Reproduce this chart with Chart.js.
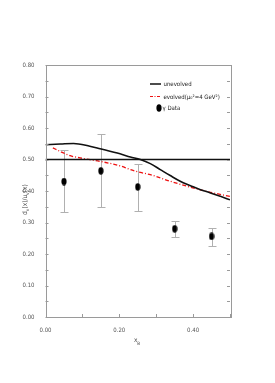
<!DOCTYPE html>
<html>
<head>
<meta charset="utf-8">
<script src="https://cdn.jsdelivr.net/npm/chart.js@4"></script>
<style>
  html, body { margin: 0; padding: 0; background: #fff; }
  #wrap { width: 275px; height: 383px; }
</style>
</head>
<body>
<div id="wrap"><canvas id="ratioChart" width="275" height="383"></canvas></div>
<script>
// Unevolved curve
const unevX = [0.00, 0.04, 0.076, 0.12, 0.148, 0.202, 0.23, 0.257, 0.284, 0.311, 0.338, 0.365, 0.393, 0.42, 0.447, 0.474, 0.50];
const unevY = [0.547, 0.549, 0.551, 0.542, 0.534, 0.518, 0.508, 0.500, 0.487, 0.468, 0.449, 0.431, 0.417, 0.404, 0.394, 0.383, 0.372];

// Evolved curve (mu0^2 = 4 GeV^2)
const evX = [0.02, 0.039, 0.067, 0.094, 0.148, 0.202, 0.23, 0.257, 0.284, 0.338, 0.393, 0.447, 0.50];
const evY = [0.537, 0.526, 0.512, 0.505, 0.494, 0.480, 0.468, 0.459, 0.452, 0.431, 0.412, 0.396, 0.383];

// Horizontal reference line
const refX = [0.00, 0.50];
const refY = [0.50, 0.50];

// gamma data with error bars
const dataX = [0.05, 0.15, 0.25, 0.35, 0.45];
const dataY = [0.430, 0.464, 0.413, 0.280, 0.256];
const errHi = [0.531, 0.580, 0.486, 0.305, 0.283];
const errLo = [0.333, 0.349, 0.337, 0.255, 0.226];

const xTicks = [0.00, 0.20, 0.40];
const yTicks = [0.00, 0.10, 0.20, 0.30, 0.40, 0.50, 0.60, 0.70, 0.80];

const FONT = '"Liberation Sans Narrow", "DejaVu Sans Condensed", "Liberation Sans", sans-serif';

function pts(xs, ys) {
    return xs.map((x, i) => ({ x: x, y: ys[i] }));
}

// Oval marker used for the data points
function makeOval() {
    const c = document.createElement('canvas');
    c.width = 6; c.height = 8;
    const g = c.getContext('2d');
    g.fillStyle = '#000';
    g.beginPath();
    g.ellipse(3, 4, 2.6, 3.7, 0, 0, Math.PI * 2);
    g.fill();
    return c;
}
const oval = makeOval();

// Error bars drawn under the points
const errorBars = {
    id: 'errorBars',
    beforeDatasetsDraw(chart) {
        const ctx = chart.ctx;
        const xs = chart.scales.x, ys = chart.scales.y;
        ctx.save();
        ctx.strokeStyle = '#b0b0b0';
        ctx.lineWidth = 1;
        dataX.forEach((x, i) => {
            const px = Math.round(xs.getPixelForValue(x)) + 0.5;
            const top = Math.round(ys.getPixelForValue(errHi[i])) + 0.5;
            const bot = Math.round(ys.getPixelForValue(errLo[i])) + 0.5;
            ctx.beginPath();
            ctx.moveTo(px, top); ctx.lineTo(px, bot);
            ctx.moveTo(px - 4, top); ctx.lineTo(px + 4, top);
            ctx.moveTo(px - 4, bot); ctx.lineTo(px + 4, bot);
            ctx.stroke();
        });
        ctx.restore();
    }
};

// Frame, inward ticks, axis titles and legend
const decorations = {
    id: 'decorations',
    afterDraw(chart) {
        const ctx = chart.ctx;
        const a = chart.chartArea;
        const xs = chart.scales.x, ys = chart.scales.y;
        ctx.save();
        ctx.strokeStyle = '#9a9a9a';
        ctx.lineWidth = 1;
        ctx.strokeRect(Math.round(a.left) + 0.5, Math.round(a.top) + 0.5,
                       Math.round(a.right - a.left), Math.round(a.bottom - a.top));

        ctx.beginPath();
        for (let v = 0; v <= 0.8001; v += 0.05) {
            const py = Math.round(ys.getPixelForValue(v)) + 0.5;
            ctx.moveTo(a.left, py); ctx.lineTo(a.left + 3, py);
            ctx.moveTo(a.right, py); ctx.lineTo(a.right - 3, py);
        }
        for (let v = 0.1; v <= 0.5001; v += 0.1) {
            const px = Math.round(xs.getPixelForValue(v)) + 0.5;
            ctx.moveTo(px, a.bottom); ctx.lineTo(px, a.bottom - 3);
        }
        ctx.stroke();

        // axis titles
        ctx.fillStyle = '#444';
        ctx.textBaseline = 'alphabetic';
        ctx.font = '6.5px ' + FONT;
        ctx.textAlign = 'left';
        ctx.fillText('x', 134, 342);
        ctx.font = '4.5px ' + FONT;
        ctx.fillText('B', 137.3, 344.5);

        ctx.save();
        ctx.translate(26.5, 215);
        ctx.rotate(-Math.PI / 2);
        let cx = 0;
        const parts = [['d', 0], ['v', 1], ['(x)/u', 0], ['v', 1], ['(x)', 0]];
        parts.forEach(p => {
            ctx.font = (p[1] ? '4.5px ' : '6.5px ') + FONT;
            ctx.fillText(p[0], cx, p[1] ? 2 : 0);
            cx += ctx.measureText(p[0]).width + (p[1] ? 0.3 : 0);
        });
        ctx.restore();

        // legend
        ctx.fillStyle = '#222';
        ctx.font = '6px ' + FONT;
        ctx.strokeStyle = '#111';
        ctx.lineWidth = 1.5;
        ctx.beginPath(); ctx.moveTo(150, 84); ctx.lineTo(161, 84); ctx.stroke();
        ctx.fillText('unevolved', 163.5, 86);

        ctx.strokeStyle = '#ee1111';
        ctx.lineWidth = 1.2;
        ctx.setLineDash([3, 1.5, 1, 1.5]);
        ctx.beginPath(); ctx.moveTo(150, 96.5); ctx.lineTo(161, 96.5); ctx.stroke();
        ctx.setLineDash([]);
        ctx.fillText('evolved(\u03bc\u2080\u00b2=4 GeV\u00b2)', 163.5, 98.5);

        ctx.drawImage(oval, 156, 104);
        ctx.fillText('\u03b3 Data', 162.5, 110);
        ctx.restore();
    }
};

function createRatioChart() {
    const ctx = document.getElementById('ratioChart').getContext('2d');
    new Chart(ctx, {
        type: 'scatter',
        data: {
            datasets: [
                {
                    label: 'reference',
                    data: pts(refX, refY),
                    showLine: true,
                    borderColor: '#111111',
                    borderWidth: 1.6,
                    pointRadius: 0
                },
                {
                    label: 'unevolved',
                    data: pts(unevX, unevY),
                    showLine: true,
                    borderColor: '#111111',
                    borderWidth: 1.6,
                    pointRadius: 0,
                    cubicInterpolationMode: 'monotone'
                },
                {
                    label: 'evolved',
                    data: pts(evX, evY),
                    showLine: true,
                    borderColor: '#ee1111',
                    borderWidth: 1.3,
                    borderDash: [4, 2, 1, 2],
                    pointRadius: 0,
                    cubicInterpolationMode: 'monotone'
                },
                {
                    label: 'gamma Data',
                    data: pts(dataX, dataY),
                    pointStyle: oval,
                    pointRadius: 4
                }
            ]
        },
        options: {
            responsive: false,
            animation: false,
            layout: { padding: { top: 65, right: 45, left: 0, bottom: 0 } },
            plugins: { legend: { display: false }, tooltip: { enabled: false } },
            scales: {
                x: {
                    type: 'linear',
                    min: 0, max: 0.5,
                    grid: { display: false },
                    border: { display: false },
                    afterBuildTicks: s => { s.ticks = xTicks.map(v => ({ value: v })); },
                    afterFit: s => { s.height = 66; },
                    ticks: {
                        color: '#555',
                        font: { family: FONT, size: 6 },
                        padding: 2,
                        maxRotation: 0,
                        callback: v => v.toFixed(2)
                    }
                },
                y: {
                    type: 'linear',
                    min: 0, max: 0.8,
                    grid: { display: false },
                    border: { display: false },
                    afterBuildTicks: s => { s.ticks = yTicks.map(v => ({ value: v })); },
                    afterFit: s => { s.width = 45.5; },
                    ticks: {
                        color: '#555',
                        font: { family: FONT, size: 6 },
                        padding: 3,
                        callback: v => v.toFixed(2)
                    }
                }
            }
        },
        plugins: [errorBars, decorations]
    });
}

createRatioChart();
</script>
</body>
</html>
